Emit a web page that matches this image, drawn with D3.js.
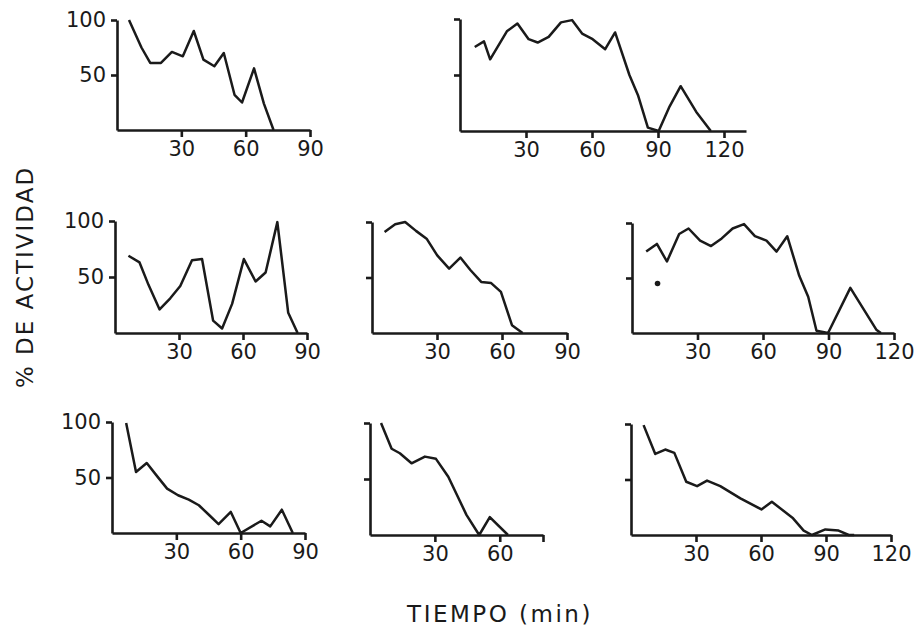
<!DOCTYPE html>
<html>
<head>
<meta charset="utf-8">
<script src="https://cdn.jsdelivr.net/npm/d3@7"></script>
<style>
  body { margin: 0; background: #fff; }
  svg { display: block; }
  .tick text { font-family: 'DejaVu Sans', sans-serif; font-size: 21px; fill: #1a1a1a; }
  .tick line, .domain { stroke: #1a1a1a; stroke-width: 2.6px; }
  .serie { fill: none; stroke: #1a1a1a; stroke-width: 2.5px; stroke-linejoin: round; }
  .titulo { font-family: 'DejaVu Sans', sans-serif; fill: #1a1a1a; }
</style>
</head>
<body>
<svg class="canvas" width="915" height="628"></svg>
<script>
const serieA = [[5.6, 100], [11.4, 75], [15.5, 61], [20.5, 61], [25.6, 71], [30.7, 67], [35.8, 90], [40.3, 64], [45.4, 58], [49.8, 70], [54.8, 32], [58.3, 25], [63.9, 56], [68.5, 24], [73, 0]];
const serieB = [[6.7, 75], [10.9, 80], [13.7, 64], [21.3, 89], [26.1, 96], [31.2, 82], [35.3, 79], [40.3, 84], [45.9, 97], [50.9, 99], [55.5, 87], [60.3, 82], [66, 73], [70.5, 88], [77, 50], [80.9, 32], [85.4, 3], [90.3, 0], [95.3, 22], [100.3, 40], [107.4, 17], [114, 0]];
const serieC = [[6.3, 69], [11.5, 63], [15.7, 43], [20.9, 21], [25.9, 31], [30.6, 42], [36.1, 65], [40.8, 66], [46, 11], [50.2, 4], [54.9, 26], [60.4, 66], [65.9, 46], [70.6, 54], [76.1, 99], [81.2, 18], [85.6, 0]];
const serieD = [[5.8, 91], [10.7, 98], [15.3, 100], [20.3, 92], [25.2, 85], [30.1, 70], [35.6, 58], [40.8, 68], [45.3, 57], [50.4, 46], [55, 45], [59.5, 37], [64.6, 7], [69.5, 0]];
const serieE = [[6.5, 74], [11.4, 81], [16, 65], [21.6, 90], [25.9, 95], [31.2, 84], [36.2, 79], [41.1, 86], [46.1, 95], [51.3, 99], [56.3, 88], [61.6, 84], [66.2, 74], [71.1, 88], [76.6, 52], [80.7, 33], [84.5, 2], [89.8, 0], [100, 41], [111.9, 3], [114, 0]];
const puntoE = [[11.7, 45]];
const serieF = [[6.6, 99], [11.2, 55], [16.2, 63], [21.1, 51], [25.7, 40], [30.8, 34], [35.8, 30], [40.5, 25], [45.4, 16], [49.7, 8], [55.4, 19], [60, 0], [69.7, 11], [73.8, 6], [79.2, 21], [84.3, 0]];
const serieG = [[5.1, 100], [10, 77], [13.8, 73], [19.2, 64], [25.4, 70], [30.5, 68], [36.2, 52], [44.6, 18], [50.5, 0], [55.4, 16], [63.8, 0]];
const serieH = [[5.8, 99], [11.2, 73], [15.8, 77], [20, 74], [25.5, 48], [30.5, 44], [35.1, 49], [41.2, 44], [50.5, 33], [60.2, 23], [65, 30], [74.8, 15], [79.7, 4], [83.5, 0], [89.7, 5], [95.8, 4], [100.5, 0], [103, 0]];

const ticksX90 = [30, 60, 90];
const ticksX120 = [30, 60, 90, 120];
const ticksX80 = [30, 60, 80];
const ticksY = [50, 100];

const tituloY = '% DE ACTIVIDAD';
const tituloX = 'TIEMPO (min)';

// geometria de cada panel: x0,x1 en px para el dominio [0,xmax]; yTop,yBase en px
const paneles = [
  { serie: serieA, xmax: 90, x0: 117, x1: 310, yTop: 20, yBase: 130, ticks: ticksX90, etiquetaY: true },
  { serie: serieB, xmax: 130, x0: 460, x1: 746, yTop: 19, yBase: 131, ticks: ticksX120, etiquetaY: false },
  { serie: serieC, xmax: 90, x0: 115, x1: 307, yTop: 221, yBase: 333, ticks: ticksX90, etiquetaY: true },
  { serie: serieD, xmax: 90, x0: 372, x1: 567, yTop: 222, yBase: 333, ticks: ticksX90, etiquetaY: false },
  { serie: serieE, xmax: 120, x0: 632, x1: 894, yTop: 223, yBase: 333, ticks: ticksX120, etiquetaY: false, puntos: puntoE },
  { serie: serieF, xmax: 90, x0: 112, x1: 305, yTop: 422, yBase: 533, ticks: ticksX90, etiquetaY: true },
  { serie: serieG, xmax: 80, x0: 370, x1: 543, yTop: 423, yBase: 535, ticks: ticksX80, etiquetaY: false, sinEtiqueta: 80 },
  { serie: serieH, xmax: 120, x0: 631, x1: 891, yTop: 424, yBase: 535, ticks: ticksX120, etiquetaY: false }
];

const svg = d3.select('.canvas');

paneles.forEach((p) => {
  const x = d3.scaleLinear().domain([0, p.xmax]).range([p.x0, p.x1]);
  const y = d3.scaleLinear().domain([0, 100]).range([p.yBase, p.yTop]);

  const ejeX = d3.axisBottom(x)
    .tickValues(p.ticks)
    .tickSize(7)
    .tickSizeOuter(0)
    .tickPadding(4)
    .tickFormat((d) => (d === p.sinEtiqueta ? '' : d));
  svg.append('g')
    .attr('transform', `translate(0, ${p.yBase})`)
    .call(ejeX);

  const ejeY = d3.axisLeft(y)
    .tickValues(ticksY)
    .tickSize(6)
    .tickSizeOuter(0)
    .tickPadding(5)
    .tickFormat((d) => (p.etiquetaY ? d : ''));
  svg.append('g')
    .attr('transform', `translate(${p.x0}, 0)`)
    .call(ejeY);

  const linea = d3.line().x((d) => x(d[0])).y((d) => y(d[1]));
  svg.append('path')
    .datum(p.serie)
    .attr('class', 'serie')
    .attr('d', linea);

  if (p.puntos) {
    svg.selectAll(null)
      .data(p.puntos)
      .enter()
      .append('circle')
      .attr('cx', (d) => x(d[0]))
      .attr('cy', (d) => y(d[1]))
      .attr('r', 2.8)
      .attr('fill', '#1a1a1a');
  }
});

// titulos de los ejes
svg.append('text')
  .attr('class', 'titulo')
  .attr('transform', 'translate(33, 277) rotate(-90)')
  .attr('text-anchor', 'middle')
  .style('font-size', '23px')
  .style('letter-spacing', '2px')
  .text(tituloY);

svg.append('text')
  .attr('class', 'titulo')
  .attr('x', 500)
  .attr('y', 622)
  .attr('text-anchor', 'middle')
  .style('font-size', '23px')
  .style('letter-spacing', '2.5px')
  .text(tituloX);
</script>
</body>
</html>
